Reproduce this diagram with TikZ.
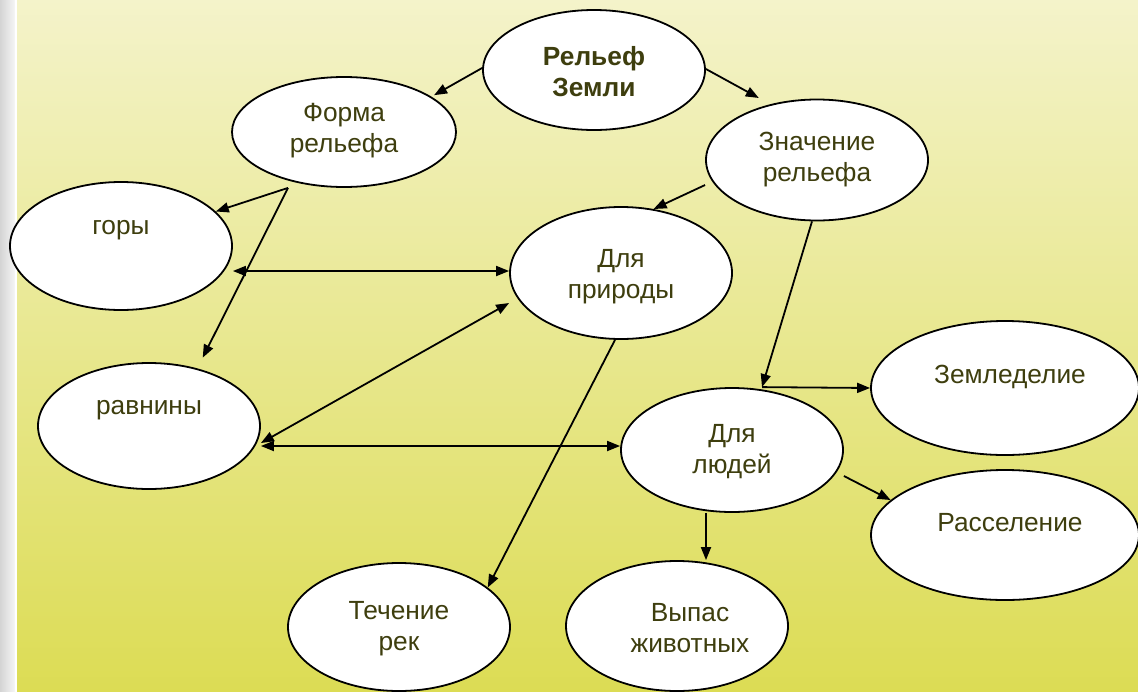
\documentclass[tikz,border=0pt]{standalone}
\usepackage{fontspec}
\setmainfont{Liberation Sans}
\usetikzlibrary{shapes.geometric,arrows.meta}
\definecolor{txtc}{RGB}{62,62,14}
\definecolor{bgtop}{RGB}{244,243,202}
\definecolor{bgbot}{RGB}{220,220,84}
\definecolor{stripl}{RGB}{212,212,212}
\definecolor{stripr}{RGB}{246,246,246}
\begin{document}
\begin{tikzpicture}[x=1pt,y=-1pt,
 ell/.style={ellipse,draw,line width=1.8pt,fill=white,inner sep=0pt},
 lbl/.style={text=txtc,font=\fontsize{26.3}{31}\selectfont,align=center,inner sep=0pt},
 arr/.style={line width=1.8pt,-{Triangle[length=13pt,width=10pt]}},
 darr/.style={line width=1.8pt,{Triangle[length=13pt,width=10pt]}-{Triangle[length=13pt,width=10pt]}}]
\clip (0,0) rectangle (1138,691);
% background
\shade[top color=bgtop,bottom color=bgbot] (17,0) rectangle (1138,691);
\shade[left color=stripl,right color=stripr] (0,0) rectangle (15,691);
\fill[white] (15,0) rectangle (17,691);
% nodes
\node[ell,minimum width=222pt,minimum height=120pt,
  label={[lbl,yshift=-2pt,font=\bfseries\fontsize{26.3}{31}\selectfont]center:{Рельеф\\Земли}}] (R) at (594,70) {};
\node[ell,minimum width=224pt,minimum height=110pt,
  label={[lbl,yshift=1.5pt]center:{Форма\\рельефа}}] (F) at (344,132) {};
\node[ell,minimum width=222pt,minimum height=121pt,
  label={[lbl,yshift=0.5pt]center:{Значение\\рельефа}}] (Z) at (817,160) {};
\node[ell,minimum width=222pt,minimum height=128pt,
  label={[lbl,yshift=15.5pt]center:горы}] (G) at (121,246) {};
\node[ell,minimum width=222pt,minimum height=132pt,
  label={[lbl,yshift=-3.5pt]center:{Для\\природы}}] (P) at (621,273) {};
\node[ell,minimum width=222pt,minimum height=126pt,
  label={[lbl,yshift=15.5pt]center:равнины}] (Rv) at (149,426) {};
\node[ell,minimum width=268pt,minimum height=134pt,
  label={[lbl,yshift=11pt,xshift=5pt]center:Земледелие}] (Zm) at (1005,388) {};
\node[ell,minimum width=222pt,minimum height=124pt,
  label={[lbl,yshift=-1.5pt]center:{Для\\людей}}] (L) at (732,450) {};
\node[ell,minimum width=268pt,minimum height=130pt,
  label={[lbl,yshift=12.5pt,xshift=5pt]center:Расселение}] (Ra) at (1005,535) {};
\node[ell,minimum width=222pt,minimum height=128pt,
  label={[lbl,yshift=-1.5pt]center:{Течение\\рек}}] (T) at (399,627) {};
\node[ell,minimum width=222pt,minimum height=130pt,
  label={[lbl,yshift=-2.5pt,xshift=13pt]center:{Выпас\\животных}}] (V) at (677,626) {};
% connectors
\draw[arr,shorten >=3pt] ([yshift=2pt]R.west) -- (F.22);
\draw[arr,shorten >=13pt] ([yshift=1pt]R.east) -- (Z.130);
\draw[arr] ([xshift=-56pt]F.south) -- (G.20);
\draw[arr,shorten >=12pt] ([xshift=-56pt]F.south) -- (Rv.50);
\draw[darr] ([yshift=-25pt]G.east) -- ([yshift=2pt]P.west);
\draw[arr] ([yshift=-25pt]Z.west) -- (P.63);
\draw[arr] ([xshift=-5pt]Z.south) -- ([xshift=30pt]L.north);
\draw[darr] ([yshift=-30pt]P.west) -- ([yshift=-17pt]Rv.east);
\draw[darr] ([yshift=-20pt]Rv.east) -- ([yshift=4pt]L.west);
\draw[arr] ([xshift=-6pt]P.south) -- (T.24);
\draw[arr] ([xshift=30pt]L.north) -- (Zm.west);
\draw[arr] ([yshift=-26pt]L.east) -- (Ra.163);
\draw[arr] ([xshift=-26pt]L.south) -- ([xshift=29pt]V.north);
\end{tikzpicture}
\end{document}
